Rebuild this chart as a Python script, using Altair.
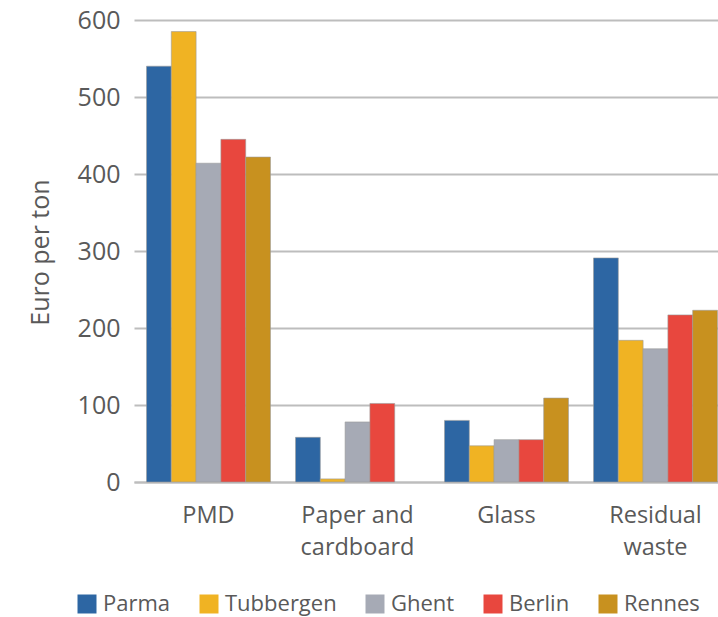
import altair as alt
import pandas as pd

categories = ["PMD", "Paper and cardboard", "Glass", "Residual waste"]
cities = ["Parma", "Tubbergen", "Ghent", "Berlin", "Rennes"]
parma = [540, 58, 80, 291]
tubbergen = [585, 4, 47, 184]
ghent = [414, 78, 55, 173]
berlin = [445, 102, 55, 217]
rennes = [422, 0, 109, 223]
colors = ["#2D66A3", "#F0B323", "#A6AAB5", "#E8473E", "#C8911F"]

series = [parma, tubbergen, ghent, berlin, rennes]
rows = []
for city, vals in zip(cities, series):
    for cat, v in zip(categories, vals):
        rows.append({"Category": cat, "City": city, "Value": v})
df = pd.DataFrame(rows)

label_expr = ("datum.label == 'Paper and cardboard' ? ['Paper and', 'cardboard'] : "
              "datum.label == 'Residual waste' ? ['Residual', 'waste'] : datum.label")

chart = alt.Chart(df).mark_bar(stroke="#9a9a9a", strokeWidth=0.6).encode(
    x=alt.X("Category:N", sort=categories, title=None,
            scale=alt.Scale(paddingInner=0.168, paddingOuter=0.084, range=[0, 596]),
            axis=alt.Axis(labelExpr=label_expr, labelAngle=0, tickSize=0, labelPadding=21,
                          labelFontSize=23.5, labelLineHeight=32, labelColor="#595959",
                          labelFont="Open Sans", domainColor="#BDBDBD", domainWidth=2,
                          grid=False, labelOverlap=False, labelBound=False, labelFlush=False)),
    xOffset=alt.XOffset("City:N", sort=cities, scale=alt.Scale(paddingInner=0, paddingOuter=0)),
    y=alt.Y("Value:Q", title="Euro per ton",
            scale=alt.Scale(domain=[0, 600], nice=False),
            axis=alt.Axis(values=[0, 100, 200, 300, 400, 500, 600], tickSize=0, labelPadding=14,
                          labelFontSize=25, labelColor="#595959", labelFont="Open Sans",
                          domain=False, gridColor="#BDBDBD", gridWidth=2,
                          titleFontSize=25, titleFont="Open Sans", titleColor="#595959",
                          titleFontWeight="normal", titleAngle=270, titleX=-94, titleY=232,
                          titleAlign="center", titleBaseline="middle")),
    strokeOpacity=alt.condition("datum.Value > 0", alt.value(1), alt.value(0)),
    color=alt.Color("City:N", sort=cities,
                    scale=alt.Scale(domain=cities, range=colors),
                    legend=alt.Legend(title=None, orient="none", direction="horizontal",
                                      legendX=-58, legendY=573, symbolType="square",
                                      symbolSize=361, symbolStrokeWidth=0, labelOffset=5,
                                      columnPadding=27, labelFontSize=22, labelFont="Open Sans",
                                      labelColor="#595959", padding=0)),
).properties(
    width=584, height=462,
    autosize=alt.AutoSizeParams(type="none"),
    padding={"left": 134, "top": 20, "right": 0, "bottom": 135},
).configure_view(stroke=None)

chart.save("out.html", embed_options={"renderer": "svg", "actions": False})
